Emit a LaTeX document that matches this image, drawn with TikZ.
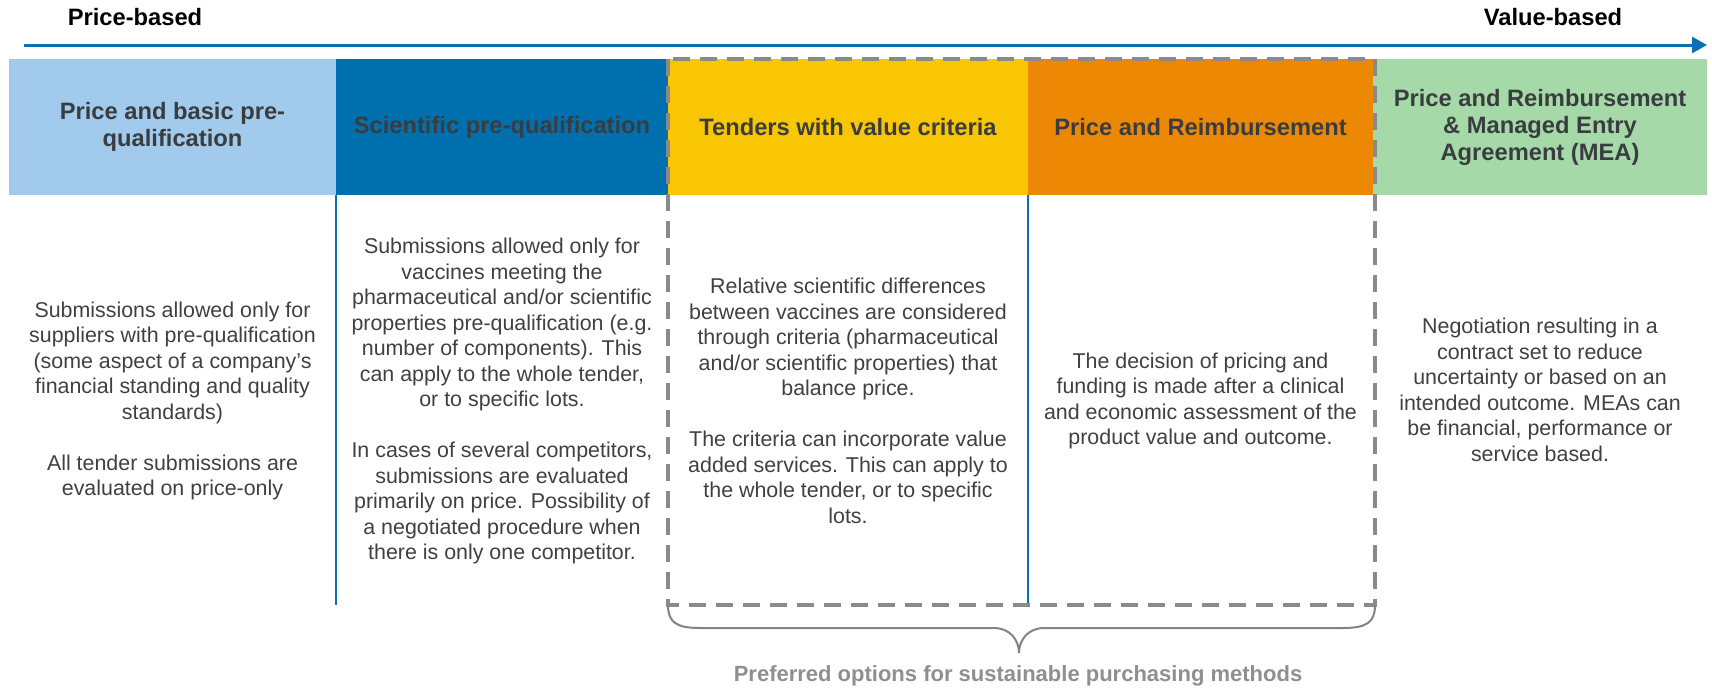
\documentclass[tikz,border=0pt]{standalone}
\usepackage{fontspec}
\setmainfont{Liberation Sans}
\usetikzlibrary{arrows.meta}

\definecolor{bandA}{HTML}{A1CAEC}
\definecolor{bandB}{HTML}{006FAD}
\definecolor{bandC}{HTML}{F8C603}
\definecolor{bandD}{HTML}{EC8804}
\definecolor{bandE}{HTML}{A5D9A7}
\definecolor{axisblue}{HTML}{0A70B0}
\definecolor{headgray}{HTML}{3A3D40}
\definecolor{bodygray}{HTML}{404040}
\definecolor{dashgray}{HTML}{8A8A8A}
\definecolor{notegray}{HTML}{8F8F8F}

\newcommand\headfont{\bfseries\fontsize{11.85}{13.5}\selectfont}
\newcommand\bodyfont{\fontsize{10.7}{12.75}\selectfont}
\newcommand\gap{\\[12.75pt]}

\tikzset{
  band/.style={rectangle, inner sep=0pt, outer sep=0pt, minimum height=68pt,
    align=center, font=\headfont, text=headgray},
  body/.style={align=center, font=\bodyfont, text=bodygray, inner sep=0pt},
  endlabel/.style={font=\headfont, text=black, inner sep=0pt, anchor=base},
  divider/.style={draw=axisblue, line width=1pt},
  dashbox/.style={draw=dashgray, line width=2pt, dash pattern=on 8.5pt off 5pt},
  bracepath/.style={draw=dashgray!95!black, line width=1pt},
}

\begin{document}
\begin{tikzpicture}[x=0.5pt, y=-0.5pt]
  \useasboundingbox (0,0) rectangle (1712,687);

  % direction of the scale
  \node[endlabel] (lo) at (135,25) {Price-based};
  \node[endlabel] (hi) at (1553,25) {Value-based};
  \coordinate (axisL) at (24,45);
  \coordinate (axisR) at (1707,45);
  \draw[axisblue, line width=1.5pt, -{Triangle[length=7.5pt,width=8pt]}] (axisL) -- (axisR);

  % coloured header bands
  \node[band, fill=bandA, minimum width=163.5pt] (b1) at (172.5,127) {Price and basic pre-\\qualification};
  \node[band, fill=bandB, minimum width=166pt] (b2) at (502,127) {Scientific pre-qualification};
  \node[band, fill=bandC, minimum width=180pt] (b3) at (848,127) {Tenders with value criteria};
  \node[band, fill=bandD, minimum width=172.5pt] (b4) at (1200.5,127) {Price and Reimbursement};
  \node[band, fill=bandE, minimum width=167pt] (b5) at (1540,127) {Price and Reimbursement\\\& Managed Entry\\Agreement (MEA)};

  % descriptions
  \node[body] (t1) at (172.5,401) {Submissions allowed only for\\suppliers with pre-qualification\\(some aspect of a company’s\\financial standing and quality\\standards)\gap All tender submissions are\\evaluated on price-only};
  \node[body] (t2) at (502,401) {Submissions allowed only for\\vaccines meeting the\\pharmaceutical and/or scientific\\properties pre-qualification (e.g.\\number of components). This\\can apply to the whole tender,\\or to specific lots.\gap In cases of several competitors,\\submissions are evaluated\\primarily on price. Possibility of\\a negotiated procedure when\\there is only one competitor.};
  \node[body] (t3) at (848,401) {Relative scientific differences\\between vaccines are considered\\through criteria (pharmaceutical\\and/or scientific properties) that\\balance price.\gap The criteria can incorporate value\\added services. This can apply to\\the whole tender, or to specific\\lots.};
  \node[body] (t4) at (1200.5,401) {The decision of pricing and\\funding is made after a clinical\\and economic assessment of the\\product value and outcome.};
  \node[body] (t5) at (1540,390) {Negotiation resulting in a\\contract set to reduce\\uncertainty or based on an\\intended outcome. MEAs can\\be financial, performance or\\service based.};

  % preferred group outline
  \coordinate (boxTL) at (668,59);
  \coordinate (boxBR) at (1375,605);
  \coordinate (boxBL) at (668,605);
  \draw[divider] (b2.south west) -- (b2.south west |- boxBL);
  \draw[divider] (b4.south west) -- (b4.south west |- boxBL);
  \draw[dashbox] (boxTL) rectangle (boxBR);

  % brace under the group
  \coordinate (tip) at (1019,653);
  \draw[bracepath] (boxBL) .. controls (668,622) and (676,628) .. (700,628)
    -- (994,628) .. controls (1010,628) and (1019,640) .. (tip)
    .. controls (1019,640) and (1028,628) .. (1044,628)
    -- (1343,628) .. controls (1367,628) and (1375,622) .. (boxBR);
  \node[font=\bfseries\fontsize{11}{13}\selectfont, text=notegray, inner sep=0pt] (note) at (1018,676)
    {Preferred options for sustainable purchasing methods};
\end{tikzpicture}
\end{document}
